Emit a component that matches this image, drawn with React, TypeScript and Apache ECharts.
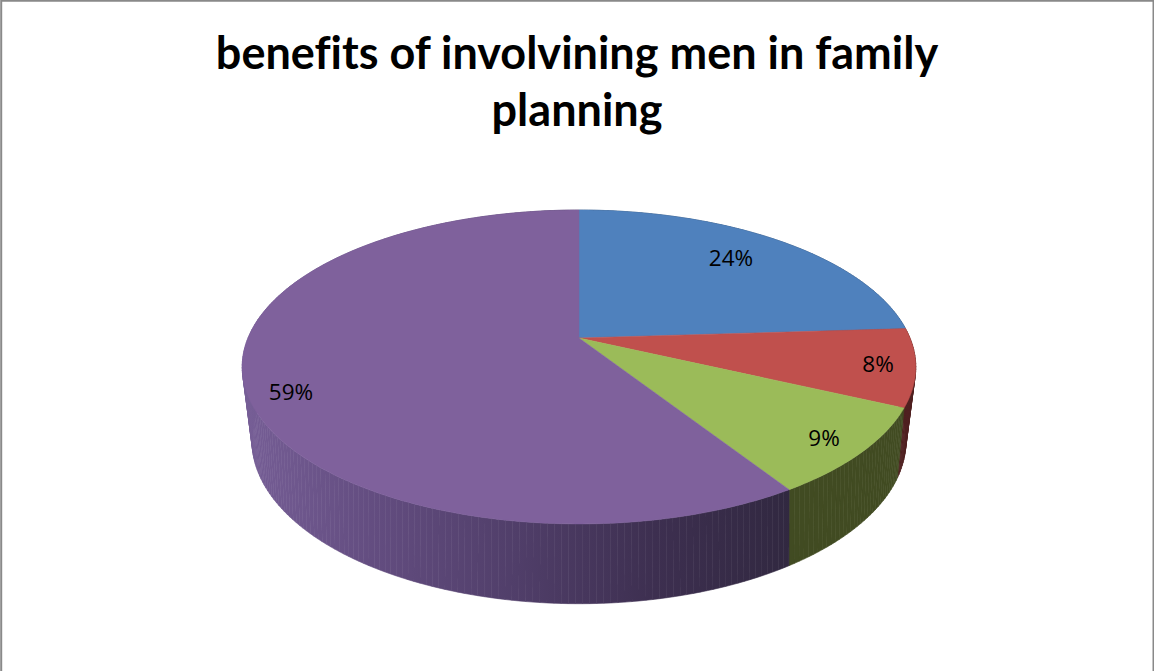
import React, { useEffect, useRef } from "react";
import * as echarts from "echarts";

const titleLines = ["benefits of involvining men in family", "planning"];
const shares = [24, 8, 9, 59];
const shareLabels = ["24%", "8%", "9%", "59%"];
const topColors = ["#4f81bd", "#c0504d", "#9bbb59", "#7f619c"];
const wallColors = ["#2f4d71", "#4f2020", "#414b22", "#55416c"];

// Pixel anchors of the percentage labels.
const labelAnchors = [
  [731, 257],
  [878, 363],
  [824, 437],
  [291, 391],
];

// Projective views of the two discs: x = cx + A*u/(1-k*v), y = cy + B*v/(1-k*v).
const CX = 579;
const topDisc = { A: 331, B: 151.6, k: 0.1847, cy: 338 };
const baseDisc = { A: 319, B: 155, k: 0.22, cy: 405 };

type Disc = typeof topDisc;

function project(disc: Disc, deg: number): number[] {
  const t = (deg * Math.PI) / 180;
  const u = Math.sin(t);
  const v = -Math.cos(t);
  const d = 1 - disc.k * v;
  return [CX + (disc.A * u) / d, disc.cy + (disc.B * v) / d];
}

function arc(disc: Disc, from: number, to: number): number[][] {
  const n = Math.max(2, Math.ceil(Math.abs(to - from)));
  const pts: number[][] = [];
  for (let i = 0; i <= n; i++) pts.push(project(disc, from + ((to - from) * i) / n));
  return pts;
}

const total = shares.reduce((a, b) => a + b, 0);

const purpleWallFill = new echarts.graphic.LinearGradient(
  242,
  0,
  793,
  0,
  [
    { offset: 0, color: "#765e96" },
    { offset: 0.25, color: "#624c7f" },
    { offset: 0.5, color: "#503e69" },
    { offset: 0.75, color: "#3d2f50" },
    { offset: 1, color: "#312840" },
  ],
  true
);

function renderSlice(params: any, api: any) {
  const i = params.dataIndex;
  const before = shares.slice(0, i).reduce((a, b) => a + b, 0);
  const start = (before / total) * 360;
  const end = start + (api.value(0) / total) * 360;
  const apex = [CX, topDisc.cy];
  const wallFill = i === 3 ? purpleWallFill : wallColors[i];

  // The rim wall is a strip of narrow quads, so its outline follows the
  // straight tangents between the two discs at the far left and right.
  const upper = arc(topDisc, start, end);
  const lower = arc(baseDisc, start, end);
  const wall = upper.slice(1).map((p, j) => ({
    type: "polygon",
    z2: 1,
    shape: { points: [upper[j], p, lower[j + 1], lower[j]] },
    style: { fill: wallFill, stroke: wallFill, lineWidth: 0.6 },
  }));

  return {
    type: "group",
    children: [
      ...wall,
      {
        type: "polygon",
        z2: 2,
        shape: { points: [apex, ...upper] },
        style: { fill: topColors[i], stroke: topColors[i], lineWidth: 0.5 },
      },
      {
        type: "text",
        z2: 3,
        x: labelAnchors[i][0],
        y: labelAnchors[i][1],
        style: {
          text: shareLabels[i],
          fill: "#000000",
          font: '22.5px "Open Sans"',
          align: "center",
          verticalAlign: "middle",
        },
      },
    ],
  };
}

export default function App() {
  const ref = useRef<HTMLDivElement>(null);
  useEffect(() => {
    const chart = echarts.init(ref.current!, undefined, { renderer: "svg" });
    chart.setOption({
      animation: false,
      backgroundColor: "#ffffff",
      title: {
        text: titleLines.join("\n"),
        left: 572,
        top: 18,
        textAlign: "center",
        textStyle: {
          fontFamily: "Lato",
          fontWeight: "bold",
          fontSize: 45,
          lineHeight: 57,
          color: "#000000",
        },
      },
      graphic: [
        {
          type: "polyline",
          shape: {
            points: [
              [1.2, 671],
              [1.2, 0.7],
              [1153.5, 0.7],
              [1153.5, 671],
            ],
          },
          style: { stroke: "#898989", lineWidth: 2, fill: "none" },
        },
      ],
      series: [
        {
          type: "custom",
          coordinateSystem: "none",
          renderItem: renderSlice,
          data: shares.map((v) => [v]),
          silent: true,
        },
      ],
    });
    return () => chart.dispose();
  }, []);
  return (
    <div
      ref={ref}
      style={{
        position: "absolute",
        left: 0,
        top: 0,
        width: 1154,
        height: 671,
        fontVariantLigatures: "none",
      }}
    />
  );
}
